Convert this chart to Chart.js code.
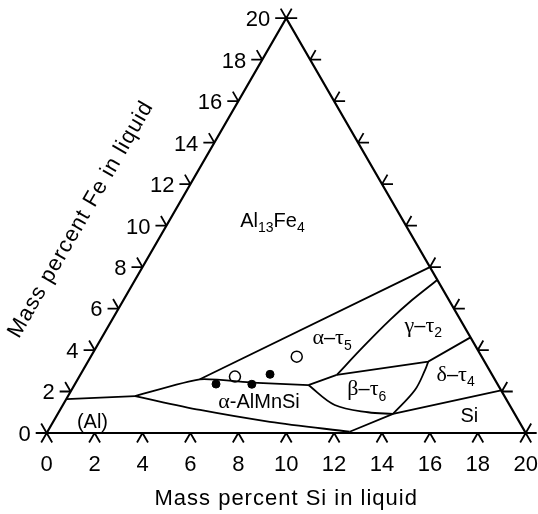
<!DOCTYPE html>
<html>
<head>
<meta charset="utf-8">
<script src="https://cdn.jsdelivr.net/npm/chart.js@4.4.1/dist/chart.umd.min.js"></script>
<style>
  html, body { margin: 0; padding: 0; background: #fff; }
  canvas { display: block; }
</style>
</head>
<body>
<canvas id="chart-liquidus" width="538" height="514"></canvas>
<script>
// axis ticks (mass percent)
const siTicks = [0, 2, 4, 6, 8, 10, 12, 14, 16, 18, 20];
const feTicks = [0, 2, 4, 6, 8, 10, 12, 14, 16, 18, 20];

// univariant lines, [Si, Fe] in mass percent
const alLiquidus = [[0, 1.63], [2.8, 1.78]];
const alphaTop = [[2.8, 1.78], [5.1, 2.59], [7.36, 2.43], [9.77, 2.31]];
const alphaBottom = [[2.8, 1.78], [5.85, 1.11], [9.05, 0.54], [12.62, 0.06]];
const siLiquidus = [[12.62, 0.06], [14.0, 0.92], [17.95, 2.05]];
const tau5Top = [[5.1, 2.59], [12, 8]];
const alphaBetaLink = [[9.77, 2.31], [10.71, 2.8]];
const betaBottom = [[9.77, 2.31], [11.35, 1.35], [12.92, 1.0], [14.0, 0.92]];
const betaDelta = [[14.0, 0.92], [14.34, 2.07], [14.28, 3.04], [14.21, 3.44]];
const betaTop = [[10.71, 2.8], [14.21, 3.44], [15.39, 4.61]];
const gammaLeft = [[10.71, 2.8], [11.14, 4.16], [11.61, 5.45], [12.05, 6.41], [12.62, 7.38]];

// alloy compositions
const filledSi = [5.89, 7.39, 7.91];
const filledFe = [2.36, 2.35, 2.83];
const openSi = [6.5, 8.6];
const openFe = [2.72, 3.68];

// phase field labels: [Si, Fe] anchor, text, subscript
const phaseLabels = [
  { at: [4.28, 10.29], parts: [['Al'], ['13', true], ['Fe'], ['4', true]] },
  { at: [9.6, 4.63], parts: [['α–τ'], ['5', true]] },
  { at: [13.11, 5.23], parts: [['γ–τ'], ['2', true]] },
  { at: [12.28, 2.17], parts: [['β–τ'], ['6', true]] },
  { at: [15.65, 2.85], parts: [['δ–τ'], ['4', true]] },
  { at: [8.08, 1.57], parts: [['α-AlMnSi']] },
  { at: [1.62, 0.58], parts: [['(Al)']] },
  { at: [17.21, 0.87], parts: [['Si']] }
];

const H = Math.sqrt(3) / 2;
const toXY = ([si, fe]) => ({ x: si + fe / 2, y: fe * H });

function boundary(pts, tension) {
  return {
    data: pts.map(toXY),
    showLine: true,
    borderColor: '#000',
    borderWidth: 1.8,
    pointRadius: 0,
    tension: tension || 0,
    fill: false,
    clip: false
  };
}

const SANS = '"Liberation Sans", Arial, sans-serif';
const SERIF = '"Liberation Serif", "Times New Roman", serif';

function drawParts(ctx, parts, cx, cy, size) {
  // split into runs: greek letters in serif, the rest in sans
  const runs = [];
  parts.forEach(([t, sub]) => {
    const fs = sub ? size * 0.7 : size;
    t.split(/([α-ω])/).filter(s => s).forEach(s => {
      const greek = /[α-ω]/.test(s);
      runs.push({ s, font: `${greek ? fs * 1.1 : fs}px ${greek ? SERIF : SANS}`, sub });
    });
  });
  let w = 0;
  runs.forEach(r => { ctx.font = r.font; r.w = ctx.measureText(r.s).width; w += r.w; });
  let xx = cx - w / 2;
  const base = cy + size * 0.36;
  runs.forEach(r => {
    ctx.font = r.font;
    ctx.fillText(r.s, xx, r.sub ? base + size * 0.27 : base);
    xx += r.w;
  });
}

const ternaryFrame = {
  id: 'ternaryFrame',
  afterDatasetsDraw(chart) {
    const { ctx, scales: { x, y } } = chart;
    const px = (si, fe) => [x.getPixelForValue(si + fe / 2), y.getPixelForValue(fe * H)];
    const L = 11;
    const stroke = (p, deg) => {
      const a = deg * Math.PI / 180;
      ctx.moveTo(p[0], p[1]);
      ctx.lineTo(p[0] + L * Math.cos(a), p[1] - L * Math.sin(a));
    };

    ctx.save();
    ctx.strokeStyle = '#000';
    ctx.lineWidth = 1.8;
    ctx.beginPath();
    siTicks.forEach(v => { const p = px(v, 0); stroke(p, 240); stroke(p, 300); });
    feTicks.forEach(v => { const p = px(0, v); stroke(p, 180); stroke(p, 120); });
    feTicks.forEach(v => { const p = px(20 - v, v); stroke(p, 0); stroke(p, 60); });
    ctx.stroke();

    ctx.fillStyle = '#000';
    ctx.font = `22px ${SANS}`;
    ctx.textBaseline = 'alphabetic';
    ctx.textAlign = 'center';
    siTicks.forEach(v => {
      const p = px(v, 0);
      ctx.fillText(String(v), p[0], p[1] + 30.5 + 7.9);
    });
    ctx.textAlign = 'right';
    feTicks.forEach(v => {
      const p = px(0, v);
      ctx.fillText(String(v), p[0] - 16, p[1] + 7.9);
    });

    // axis titles
    ctx.letterSpacing = '1px';
    ctx.textAlign = 'center';
    ctx.fillText('Mass percent Si in liquid', px(10, 0)[0], 505);
    const c = px(0, 0);
    const along = 202, out = 71;
    ctx.save();
    ctx.translate(c[0] + along * 0.5 - out * H, c[1] - along * H - out * 0.5);
    ctx.rotate(-Math.PI / 3);
    ctx.fillText('Mass percent Fe in liquid', 0, 0);
    ctx.restore();
    ctx.letterSpacing = '0px';

    ctx.textAlign = 'left';
    phaseLabels.forEach(l => {
      const p = px(l.at[0], l.at[1]);
      drawParts(ctx, l.parts, p[0], p[1], 20);
    });
    ctx.restore();
  }
};

new Chart(document.getElementById('chart-liquidus'), {
  type: 'scatter',
  data: {
    datasets: [
      {
        data: [[0, 0], [20, 0], [0, 20], [0, 0]].map(toXY),
        showLine: true, borderColor: '#000', borderWidth: 2.2, pointRadius: 0, clip: false
      },
      boundary(alLiquidus),
      boundary(alphaTop, 0.2),
      boundary(alphaBottom, 0.3),
      boundary(siLiquidus),
      boundary(tau5Top),
      boundary(alphaBetaLink),
      boundary(betaBottom, 0.35),
      boundary(betaDelta, 0.35),
      boundary(betaTop),
      boundary(gammaLeft, 0.3),
      {
        data: filledSi.map((s, i) => toXY([s, filledFe[i]])),
        pointRadius: 4, pointBackgroundColor: '#000', pointBorderColor: '#000', pointBorderWidth: 1, clip: false
      },
      {
        data: openSi.map((s, i) => toXY([s, openFe[i]])),
        pointRadius: 5.5, pointBackgroundColor: '#fff', pointBorderColor: '#000', pointBorderWidth: 1.5, clip: false
      }
    ]
  },
  options: {
    responsive: false,
    animation: false,
    devicePixelRatio: 1,
    layout: { padding: { left: 46.7, right: 12.3, top: 18.2, bottom: 81 } },
    scales: {
      x: { type: 'linear', min: 0, max: 20, display: false },
      y: { type: 'linear', min: 0, max: 20 * H, display: false }
    },
    plugins: { legend: { display: false }, tooltip: { enabled: false } }
  },
  plugins: [ternaryFrame]
});
</script>
</body>
</html>
